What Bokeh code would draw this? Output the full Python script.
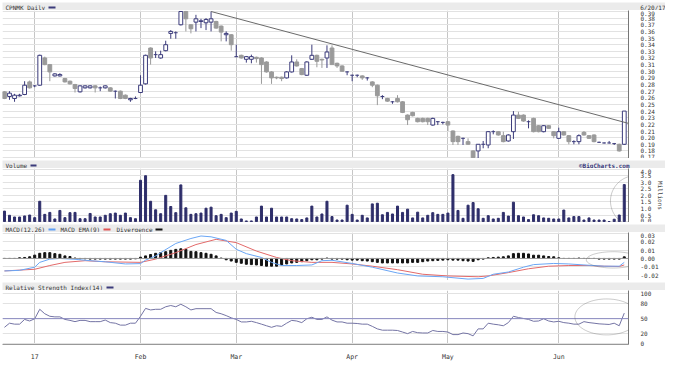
import numpy as np
from bokeh.plotting import figure
from bokeh.layouts import column
from bokeh.models import (Range1d, FixedTicker, Span, ColumnDataSource,
                          NumeralTickFormatter, PolyAnnotation)
from bokeh.core.properties import value
from bokeh.embed import file_html
from bokeh.resources import INLINE

# ------------------------------------------------------------------ data
title_text = "CPNMK Daily"
date_text = "6/20/17"
credit_text = "\u00a9BigCharts.com"

month_ticks = [6, 27, 46, 69, 88, 110]
month_labels = ["17", "Feb", "Mar", "Apr", "May", "Jun"]

opens = [.269, .262, .259, .263, .265, .284, .278, .279, .320, .310,
         .293, .293, .289, .285, .280, .269, .275, .275, .278, .275,
         .275, .275, .270, .270, .264, .257, .259, .268, .281, .335,
         .325, .320, .331, .357, .358, .370, .390, .370, .374, .375,
         .373, .374, .375, .368, .355, .355, .322, .324, .318, .318,
         .321, .320, .314, .299, .291, .291, .290, .299, .314, .304,
         .294, .318, .324, .318, .320, .335, .312, .308, .299, .294,
         .294, .293, .290, .284, .279, .262, .259, .254, .259, .254,
         .234, .238, .229, .229, .229, .219, .224, .223, .224, .210,
         .202, .199, .194, .180, .180, .190, .189, .209, .209, .203,
         .195, .209, .234, .234, .224, .229, .218, .209, .218, .209,
         .199, .209, .203, .194, .194, .208, .203, .204, .193, .192,
         .192, .191, .190, .190]
highs = [.270, .270, .266, .266, .285, .286, .279, .325, .322, .311,
         .297, .297, .290, .286, .281, .279, .279, .279, .279, .277,
         .279, .276, .271, .271, .265, .260, .262, .294, .325, .336,
         .330, .331, .346, .362, .360, .390, .391, .371, .385, .379,
         .380, .390, .376, .369, .360, .356, .340, .325, .323, .325,
         .322, .321, .315, .300, .292, .292, .300, .324, .318, .305,
         .315, .340, .325, .319, .339, .339, .313, .309, .300, .295,
         .295, .294, .291, .285, .280, .264, .260, .255, .264, .255,
         .235, .239, .230, .230, .230, .230, .225, .224, .225, .211,
         .203, .200, .199, .181, .190, .195, .210, .211, .210, .209,
         .205, .240, .239, .235, .226, .230, .219, .219, .219, .210,
         .215, .210, .204, .196, .205, .210, .204, .205, .194, .193,
         .195, .192, .191, .240]
lows = [.258, .257, .254, .262, .264, .274, .276, .278, .309, .285,
        .292, .292, .283, .280, .268, .268, .274, .274, .268, .270,
        .274, .269, .259, .258, .258, .254, .258, .267, .280, .310,
        .320, .319, .330, .349, .349, .369, .360, .357, .360, .365,
        .362, .360, .364, .345, .345, .331, .321, .319, .313, .312,
        .313, .281, .298, .281, .288, .285, .289, .298, .307, .294,
        .293, .317, .306, .305, .305, .310, .305, .299, .294, .285,
        .291, .287, .286, .276, .249, .258, .254, .251, .253, .237,
        .219, .232, .223, .223, .219, .218, .219, .220, .210, .189,
        .189, .189, .189, .168, .168, .184, .184, .205, .203, .193,
        .194, .198, .228, .224, .214, .208, .208, .208, .213, .199,
        .198, .203, .190, .190, .190, .203, .198, .193, .192, .191,
        .191, .189, .179, .189]
closes = [.259, .267, .264, .264, .279, .275, .278, .324, .310, .299,
          .296, .295, .284, .281, .274, .278, .278, .278, .275, .275,
          .278, .270, .270, .259, .259, .259, .259, .279, .324, .320,
          .325, .325, .340, .360, .358, .390, .379, .364, .379, .376,
          .378, .379, .365, .359, .357, .340, .322, .320, .322, .322,
          .319, .310, .299, .290, .290, .289, .299, .314, .308, .295,
          .314, .324, .315, .317, .329, .310, .308, .300, .299, .294,
          .294, .290, .290, .279, .263, .262, .255, .254, .254, .238,
          .227, .233, .224, .224, .224, .229, .224, .223, .219, .194,
          .194, .199, .190, .170, .190, .190, .209, .209, .204, .194,
          .204, .234, .229, .225, .224, .209, .209, .218, .214, .203,
          .209, .204, .194, .194, .203, .204, .199, .194, .193, .192,
          .192, .191, .180, .240]

volume_millions = [0.8, 0.48, 0.35, 0.35, 0.43, 0.5, 0.3, 1.55, 0.55, 0.7,
                   0.2, 0.85, 0.3, 0.68, 0.7, 0.22, 0.22, 0.62, 0.35, 0.35,
                   0.48, 0.6, 0.65, 0.48, 0.65, 0.3, 0.22, 3.15, 3.5, 1.55,
                   0.9, 0.6, 2.0, 1.15, 0.68, 2.8, 1.05, 0.55, 0.6, 0.65,
                   1.02, 1.1, 0.45, 0.55, 0.3, 0.65, 0.78, 0.2, 0.05, 0.05,
                   0.35, 1.18, 0.35, 1.02, 0.35, 0.35, 0.35, 0.22, 0.2, 0.15,
                   0.28, 1.18, 0.35, 0.58, 1.55, 0.38,
                   0.12, 0.12, 1.25, 0.55, 0.12, 0.48, 0.28, 1.35, 1.4, 0.52,
                   0.7, 0.58, 1.18, 0.7, 0.95, 0.28, 0.72, 0.28, 0.48, 0.68,
                   0.55, 0.55, 0.65, 3.58, 0.85, 0.25, 1.25, 1.45, 0.98, 0.25,
                   0.45, 0.2, 0.25, 0.7, 0.42, 1.48, 0.45, 0.35, 0.15, 0.52,
                   0.45, 0.28, 0.25, 0.2, 0.2, 0.88, 0.28, 0.38, 0.38, 0.12,
                   0.28, 0.12, 0.12, 0.12, 0.0, 0.18, 0.5, 2.82]

macd_days = [0, 3, 6, 7, 9, 11, 14, 17, 20, 24, 27, 28, 30, 31, 34, 37, 39, 41,
             44, 46, 48, 51, 53, 55, 58, 61, 63, 65, 69, 73, 78, 82, 87, 92, 95,
             97, 100, 103, 105, 109, 112, 115, 119, 122, 123]
macd_values = [-0.015, -0.0143, -0.0105, -0.0047, -0.0008, 0.0, -0.001, -0.0027,
               -0.004, -0.0066, -0.0062, -0.002, 0.003, 0.007, 0.018, 0.024,
               0.027, 0.026, 0.0217, 0.011, 0.0058, 0.0012, -0.0047, -0.0085,
               -0.0085, -0.0078, -0.0027, -0.0022, -0.006, -0.0105, -0.0175,
               -0.021, -0.022, -0.0248, -0.024, -0.019, -0.0163, -0.0105,
               -0.0074, -0.006, -0.0066, -0.0078, -0.0093, -0.0093, -0.0047]
ema_days = [0, 6, 9, 12, 16, 20, 27, 30, 34, 38, 42, 46, 50, 54, 57, 61, 65, 69,
            73, 78, 83, 88, 94, 96, 100, 104, 108, 112, 116, 119, 122, 123]
ema_values = [-0.015, -0.013, -0.0085, -0.0047, -0.0027, -0.004, -0.0047, -0.0008,
              0.007, 0.0167, 0.023, 0.019, 0.0089, 0.0012, -0.0027, -0.0047,
              -0.0047, -0.0066, -0.0093, -0.0135, -0.019, -0.021, -0.022, -0.021,
              -0.017, -0.0124, -0.0093, -0.0085, -0.0085, -0.0093, -0.0097, -0.0078]
divergence = [0, 0, 0, 0.0008, 0.0012, 0.002, 0.004, 0.0062, 0.007, 0.007,
              0.0058, 0.005, 0.0031, 0.0023, 0.0004, -0.0004, -0.0004, -0.0008, -0.0008, -0.0008,
              -0.0008, -0.0008, -0.0008, -0.0008, -0.0008, -0.0008, -0.0004, 0.0015, 0.0031, 0.0047,
              0.0062, 0.007, 0.0081, 0.0097, 0.0109, 0.0116, 0.0109, 0.0085, 0.0081, 0.007,
              0.0062, 0.005, 0.0031, 0.0004, -0.0016, -0.0031, -0.0047, -0.0058, -0.007, -0.0074,
              -0.0078, -0.0085, -0.0093, -0.0093, -0.0093, -0.0078, -0.0066, -0.0054, -0.0047, -0.0039,
              -0.0027, -0.0016, -0.0016, -0.0008, 0.0004, -0.0008, -0.0008, -0.0008, -0.0016, -0.002,
              -0.002, -0.0027, -0.0031, -0.0039, -0.0047, -0.0054, -0.0054, -0.0054, -0.0054, -0.0054,
              -0.0054, -0.0047, -0.0047, -0.0039, -0.0031, -0.0027, -0.0023, -0.002, -0.0016, -0.002,
              -0.002, -0.0027, -0.0031, -0.0035, -0.0016, -0.0008, 0.0008, 0.0012, 0.0016, 0.002,
              0.0031, 0.0058, 0.0062, 0.0062, 0.0054, 0.0039, 0.0039, 0.0031, 0.0023, 0.002,
              0.0008, 0.0, 0.0, 0.0, 0.0004, 0.0, 0.0, 0.0, -0.0008, -0.0008,
              -0.0008, -0.0008, -0.0008, 0.0019]

rsi_values = [32.7, 40.9, 39, 39, 48.4, 45.3, 49.7, 68.6, 59.7, 54.7,
              53.5, 53.5, 48.4, 46.5, 44, 46.5, 46.5, 44, 44, 44,
              47.2, 42.1, 40.9, 37.1, 37.1, 40.9, 40.9, 54.7, 70.4, 67.3,
              68.6, 68.6, 73.6, 76.1, 73.6, 78.6, 73.6, 67.3, 69.8, 69.8,
              69.8, 69.8, 62.3, 59.7, 56, 51.6, 48.4, 43.4, 43.4, 44.7,
              42.1, 39, 35.8, 32.7, 35.8, 34.6, 40.9, 46.5, 45.3, 42.1,
              49.7, 52.8, 48.4, 48.4, 53.5, 47,
              43.4, 43.4, 40.9, 40.9, 40.3, 39, 39, 34.6, 29.6, 27,
              27, 27, 26.4, 23.3, 20.1, 24.5, 22, 21.4, 21.4, 26.4,
              24.5, 24.5, 23.3, 18.2, 18.2, 21.4, 20.1, 15.7, 29.6, 29.6,
              40.9, 39, 37.7, 35.8, 42.1, 54.7, 52.2, 50.3, 48.4, 44.7,
              45.3, 49.7, 45.3, 43.4, 44.7, 42.1, 40.9, 39, 39, 44,
              42.1, 40.9, 39.6, 39, 38.4, 40.9, 35.8, 61]

trend_days = [41, 123.84]
trend_prices = [0.390, 0.2215]

price_ticks = [0.17, 0.18, 0.19, 0.20, 0.21, 0.22, 0.23, 0.24, 0.25, 0.26, 0.27, 0.28,
               0.29, 0.30, 0.31, 0.32, 0.33, 0.34, 0.35, 0.36, 0.37, 0.38, 0.39]
volume_ticks = [0.0, 0.5, 1.0, 1.5, 2.0, 2.5, 3.0, 3.5, 4.0]
macd_ticks = [-0.02, -0.01, 0.0, 0.01, 0.02, 0.03]
rsi_ticks = [0, 20, 50, 80, 100]

# hand-drawn circles: (center day, center value, x radius in days, y radius in values)
volume_circle = (125.4, 1.57, 5.14, 1.95)
macd_circle = (120.8, -0.0017, 5.33, 0.0098)
rsi_circle = (119.5, 53.4, 6.3, 35.8)

# ------------------------------------------------------------------ style
FONT_NAME = "DejaVu Sans Mono"
FONT = value(FONT_NAME)
NAVY = "#3b3b7b"
GRAY = "#9a9a9a"
BAND = "#ebebeb"
FW = 626
LB = 2
RB = 37
TOTAL_W = LB + FW + RB
HH = 10

x_range = Range1d(-0.39, 123.84)


def header(h):
    f = figure(frame_width=TOTAL_W, frame_height=h, x_range=Range1d(0, TOTAL_W),
               y_range=Range1d(0, h), toolbar_location=None, output_backend="svg",
               min_border=0, x_axis_location=None, y_axis_location=None, title=None)
    f.grid.visible = False
    f.outline_line_color = None
    f.background_fill_color = BAND
    f.border_fill_color = "white"
    return f


def htext(f, x, t, align="left", color="#333333", style="normal", size="6px"):
    f.text(x=[x], y=[HH / 2], text=[t], text_font=FONT, text_font_size=size,
           text_baseline="middle", text_align=align, text_color=color,
           text_font_style=style)


def swatch(f, x0, x1, color):
    f.segment(x0=[x0], y0=[HH / 2], x1=[x1], y1=[HH / 2], line_color=color, line_width=2)


def panel(h, yr, ticks, fmt, bottom=False):
    f = figure(frame_width=FW, frame_height=h, x_range=x_range, y_range=yr,
               toolbar_location=None, output_backend="svg",
               min_border_left=LB, min_border_right=RB, min_border_top=0,
               min_border_bottom=0, title=None,
               x_axis_location="below" if bottom else None, y_axis_location="right")
    f.outline_line_color = None
    f.background_fill_color = "white"
    f.xgrid.ticker = FixedTicker(ticks=month_ticks)
    f.xgrid.grid_line_color = "#c6c6c6"
    f.ygrid.ticker = FixedTicker(ticks=ticks)
    f.ygrid.grid_line_color = "#e2e2e2"
    ax = f.yaxis[0]
    ax.ticker = FixedTicker(ticks=ticks)
    ax.formatter = NumeralTickFormatter(format=fmt)
    ax.axis_line_color = "#777777"
    ax.major_tick_line_color = None
    ax.minor_tick_line_color = None
    ax.major_label_standoff = 6
    ax.major_label_text_font = FONT_NAME
    ax.major_label_text_font_size = "6px"
    ax.major_label_text_color = "#333333"
    if bottom:
        xa = f.xaxis[0]
        xa.ticker = FixedTicker(ticks=month_ticks)
        xa.major_label_overrides = dict(zip(month_ticks, month_labels))
        xa.major_tick_line_color = None
        xa.minor_tick_line_color = None
        xa.axis_line_color = "#999999"
        xa.major_label_standoff = 2
        xa.major_label_text_font = FONT_NAME
        xa.major_label_text_font_size = "6.5px"
        xa.major_label_text_color = "#333333"
    else:
        f.add_layout(Span(location=yr.start, dimension="width",
                          line_color="#aaaaaa", line_width=1))
    return f


def circle(f, spec):
    cx, cy, rx, ry = spec
    t = np.linspace(0, 2 * np.pi, 80)
    f.add_layout(PolyAnnotation(xs=list(cx + rx * np.cos(t)), ys=list(cy + ry * np.sin(t)),
                                fill_alpha=0, line_color="#555555", line_width=1))


# ------------------------------------------------------------------ headers
h1 = header(HH)
htext(h1, 3, title_text)
swatch(h1, 46, 53, NAVY)
htext(h1, 663, date_text, align="right")

h2 = header(HH)
htext(h2, 3, "Volume")
swatch(h2, 28, 34, NAVY)
htext(h2, LB + FW - 1, credit_text, align="right", color="#3a3a7a", style="bold")

h3 = header(HH)
htext(h3, 3, "MACD(12,26)")
swatch(h3, 46, 53, "#5f9ff5")
htext(h3, 58, "MACD EMA(9)")
swatch(h3, 101, 108, "#e05555")
htext(h3, 114, "Divergence")
swatch(h3, 153, 160, "#111111")

h4 = header(HH)
htext(h4, 3, "Relative Strength Index(14)")
swatch(h4, 104, 111, NAVY)

# ------------------------------------------------------------------ price
o = np.array(opens); hi = np.array(highs); lo = np.array(lows); c = np.array(closes)
days = np.arange(len(c))
up = c > o + 1e-9
dn = c < o - 1e-9
flat = ~(up | dn)
wick_col = np.where(dn, GRAY, NAVY)

pp = panel(148, Range1d(0.1686, 0.3915), price_ticks, "0.00")
pp.segment(x0="x", y0="l", x1="x", y1="h", line_color="wc", line_width=1,
           source=ColumnDataSource(dict(x=days, l=lo, h=hi, wc=wick_col)))
pp.vbar(x="x", width=0.75, top="t", bottom="b", fill_color="white", line_color=NAVY,
        source=ColumnDataSource(dict(x=days[up], t=c[up], b=o[up])))
pp.vbar(x="x", width=0.75, top="t", bottom="b", fill_color=GRAY, line_color=GRAY,
        source=ColumnDataSource(dict(x=days[dn], t=o[dn], b=c[dn])))
pp.segment(x0="x0", y0="y", x1="x1", y1="y", line_color=NAVY, line_width=1,
           source=ColumnDataSource(dict(x0=days[flat] - 0.37, x1=days[flat] + 0.37, y=c[flat])))
pp.line(trend_days, trend_prices, line_color="#6a6a6a", line_width=1)

# ------------------------------------------------------------------ volume
pv = panel(54, Range1d(-0.07, 4.05), volume_ticks, "0.0")
pv.vbar(x=days, top=volume_millions, bottom=0, width=0.4, color="#2e2e6a")
pv.yaxis[0].axis_label = "Millions"
pv.yaxis[0].axis_label_text_font = FONT_NAME
pv.yaxis[0].axis_label_text_font_size = "6px"
pv.yaxis[0].axis_label_text_font_style = "normal"
pv.yaxis[0].axis_label_standoff = 3
circle(pv, volume_circle)

# ------------------------------------------------------------------ MACD
pm = panel(48, Range1d(-0.0265, 0.0312), macd_ticks, "0.00")
pm.add_layout(Span(location=0, dimension="width", line_color="#9a9a9a", line_width=1))
pm.vbar(x=days, top=divergence, bottom=0, width=0.4, color="#111111")
pm.line(ema_days, ema_values, line_color="#e36a6a", line_width=1)
pm.line(macd_days, macd_values, line_color="#6aa6f5", line_width=1)
circle(pm, macd_circle)

# ------------------------------------------------------------------ RSI
pr = panel(54, Range1d(-1.5, 106), rsi_ticks, "0", bottom=True)
pr.add_layout(Span(location=50, dimension="width", line_color="#8a8ac0", line_width=1))
pr.line(days, rsi_values, line_color="#7474a4", line_width=1)
circle(pr, rsi_circle)

layout = column(h1, pp, h2, pv, h3, pm, h4, pr, spacing=0)
open("out.html", "w").write(file_html(layout, INLINE))
